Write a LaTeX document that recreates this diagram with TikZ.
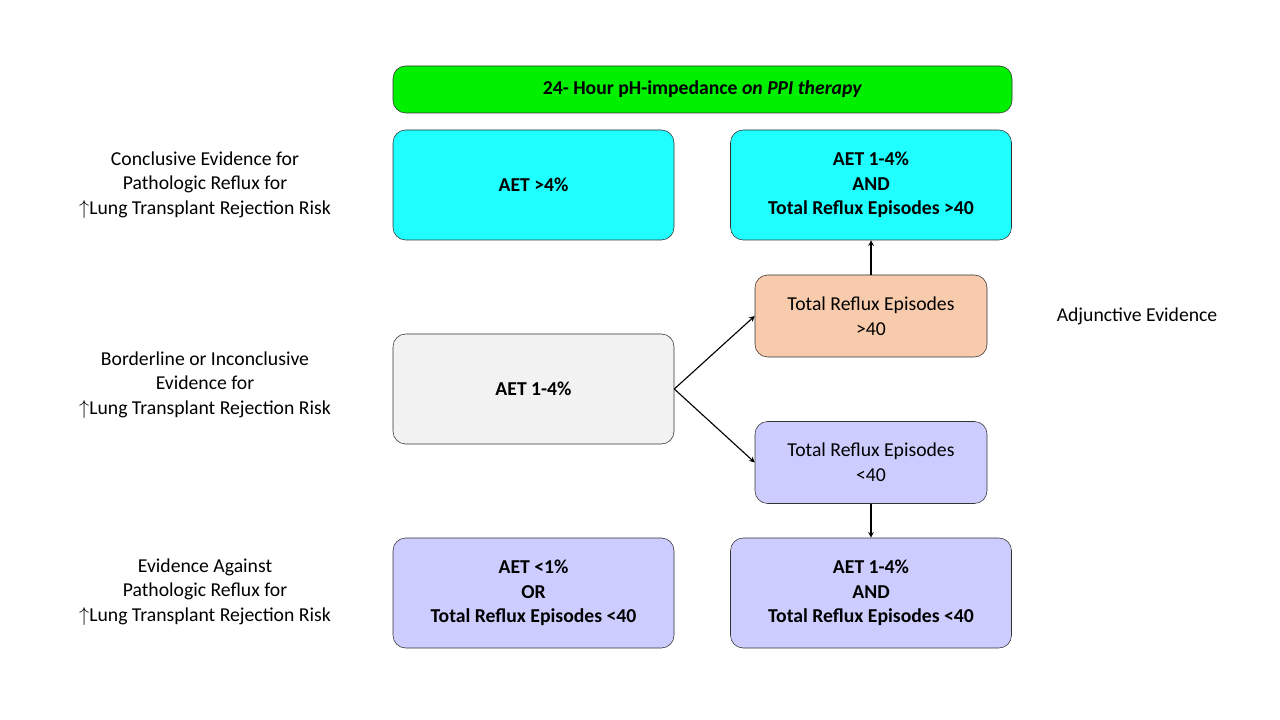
\documentclass[tikz,border=0pt]{standalone}
\usepackage{fontspec}
\setmainfont{Carlito}
\usetikzlibrary{positioning}
\definecolor{cyanbox}{HTML}{1FFFFF}
\definecolor{greenbox}{HTML}{00F000}
\definecolor{orangebox}{HTML}{F8CBAD}
\definecolor{greybox}{HTML}{F2F2F2}
\definecolor{lavbox}{HTML}{CCCCFF}
\begin{document}
\begin{tikzpicture}[x=0.025cm,y=-0.025cm,font=\fontsize{14}{17.5}\selectfont]
  \tikzstyle{box}=[draw=black!80,rounded corners=9pt,align=center,font=\fontsize{14}{17.5}\selectfont\bfseries,inner sep=0pt]
  \tikzstyle{big}=[box,minimum width=281*0.025cm,minimum height=110*0.025cm]
  \tikzstyle{small}=[box,minimum width=232*0.025cm,minimum height=82*0.025cm,font=\fontsize{14}{17.5}\selectfont]
  \tikzstyle{side}=[align=center]
  \tikzstyle{link}=[thick,->,>=stealth]

  \useasboundingbox (0,0) rectangle (1280,720);

  \node[box,fill=greenbox,minimum width=619*0.025cm,minimum height=47*0.025cm] (head) at (702.5,89.5) {24- Hour pH-impedance \textit{on PPI therapy}};

  \node[big,fill=cyanbox] (high) at (533.5,185) {AET >4\%};
  \node[big,fill=cyanbox] (highand) at (871,185) {AET 1-4\%\\AND\\Total Reflux Episodes >40};
  \node[small,fill=orangebox] (many) at (871,316) {Total Reflux Episodes\\>40};
  \node[big,fill=greybox] (mid) at (533.5,389) {AET 1-4\%};
  \node[small,fill=lavbox] (few) at (871,462.5) {Total Reflux Episodes\\<40};
  \node[big,fill=lavbox] (low) at (533.5,593) {AET <1\%\\OR\\Total Reflux Episodes <40};
  \node[big,fill=lavbox] (lowand) at (871,593) {AET 1-4\%\\AND\\Total Reflux Episodes <40};

  \node[side] (s1) at (205,185) {Conclusive Evidence for\\Pathologic Reflux for\\$\uparrow$Lung Transplant Rejection Risk};
  \node[side] (s2) at (205,385) {Borderline or Inconclusive\\Evidence for\\$\uparrow$Lung Transplant Rejection Risk};
  \node[side] (s3) at (205,592) {Evidence Against\\Pathologic Reflux for\\$\uparrow$Lung Transplant Rejection Risk};
  \node (adj) at (1137,316) {Adjunctive Evidence};

  \draw[link] (mid.east) -- (many.west);
  \draw[link] (mid.east) -- (few.west);
  \draw[link] (many.north) -- (highand.south);
  \draw[link] (few.south) -- (lowand.north);
\end{tikzpicture}
\end{document}
